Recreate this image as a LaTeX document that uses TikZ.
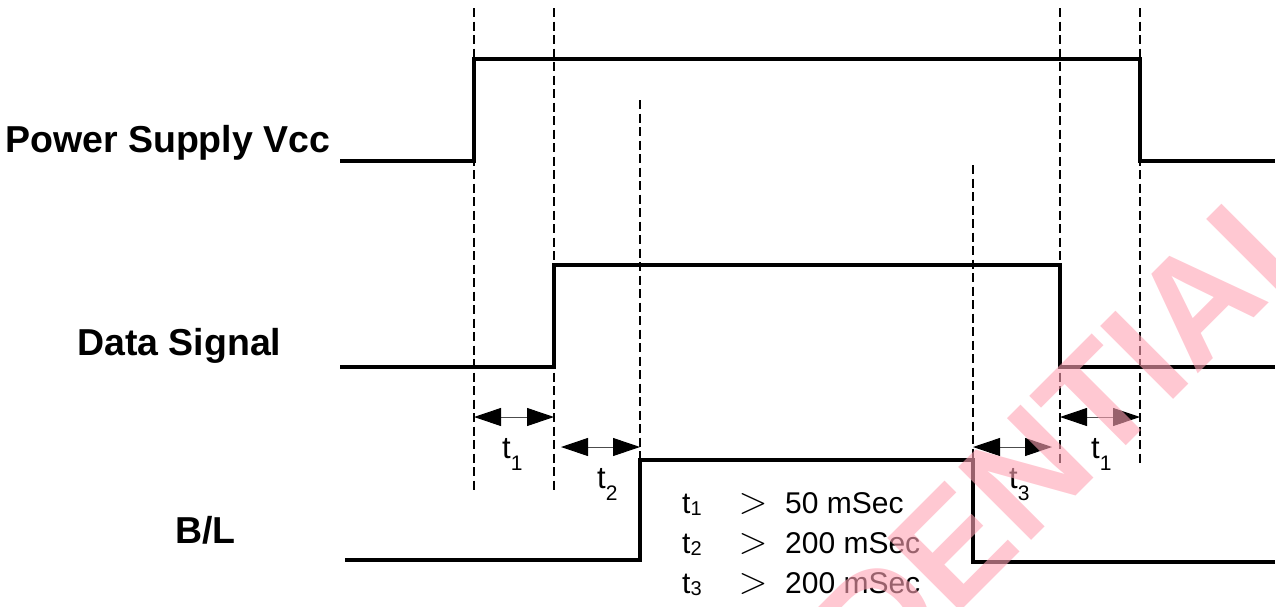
\RequirePackage{fix-cm}
\documentclass[tikz,border=0pt]{standalone}
\usepackage{fontspec}
\setmainfont{Liberation Sans}
\usetikzlibrary{arrows.meta}
\definecolor{wmpink}{RGB}{255,163,180}
\newcommand{\tlab}[1]{\fontsize{31}{31}\selectfont t\raisebox{-12pt}{\fontsize{21}{21}\selectfont #1}}
\newcommand{\tleg}[1]{\fontsize{30}{30}\selectfont t\raisebox{-2.5pt}{\fontsize{20}{20}\selectfont #1}}
\tikzset{
  signal/.style={line width=3.3pt, line join=miter},
  guide/.style={line width=2.8pt, dash pattern=on 9pt off 4.5pt},
  dimarrow/.style={line width=1pt, draw=black!70,
    {Triangle[length=27pt,width=18pt,color=black]}-{Triangle[length=27pt,width=18pt,color=black]}},
  siglabel/.style={anchor=base west, inner sep=0, font=\fontsize{37.5}{40}\bfseries\selectfont},
  tlabel/.style={anchor=base west, inner sep=0},
  legend/.style={anchor=base west, inner sep=0, font=\fontsize{30}{32}\selectfont},
  gt/.style={anchor=base, inner sep=0, font=\fontsize{38}{38}\selectfont},
  watermark/.style={rotate=45, anchor=base east, inner sep=0, text=wmpink, opacity=0.6,
    font=\fontsize{150}{150}\bfseries\selectfont}
}
\begin{document}
\begin{tikzpicture}[x=1pt,y=-1pt]
\useasboundingbox (0,0) rectangle (1276,606);
% labels
\node[siglabel] (lvcc) at (5,152) {Power Supply Vcc};
\node[siglabel] (ldata) at (77,355) {Data Signal};
\node[siglabel] (lbl) at (175,543) {B/L};
% waveforms
\draw[signal] (340,161) -- (474,161) -- (474,59) -- (1140,59) -- (1140,161) -- (1275,161);
\draw[signal] (340,367) -- (554,367) -- (554,265) -- (1060,265) -- (1060,367) -- (1275,367);
\draw[signal] (345,560) -- (640,560) -- (640,460) -- (973,460) -- (973,562) -- (1275,562);
% guide lines
\coordinate (g1t) at (474,8);   \coordinate (g1b) at (474,492);
\coordinate (g2t) at (554,8);   \coordinate (g2b) at (554,492);
\coordinate (g3t) at (640,100); \coordinate (g3b) at (640,460);
\coordinate (g4t) at (973,165); \coordinate (g4b) at (973,562);
\coordinate (g5t) at (1060,8);  \coordinate (g5b) at (1060,467);
\coordinate (g6t) at (1140,8);  \coordinate (g6b) at (1140,467);
\draw[guide] (g1t) -- (g1b);
\draw[guide] (g2t) -- (g2b);
\draw[guide] (g3t) -- (g3b);
\draw[guide] (g4t) -- (g4b);
\draw[guide] (g5t) -- (g5b);
\draw[guide] (g6t) -- (g6b);
% dimension arrows
\coordinate (a1l) at (474,417); \coordinate (a1r) at (554,417);
\coordinate (a2l) at (561,447); \coordinate (a2r) at (640,447);
\coordinate (a3l) at (973,447); \coordinate (a3r) at (1052,447);
\coordinate (a4l) at (1060,417); \coordinate (a4r) at (1140,417);
\draw[dimarrow] (a1l) -- (a1r);
\draw[dimarrow] (a2l) -- (a2r);
\draw[dimarrow] (a3l) -- (a3r);
\draw[dimarrow] (a4l) -- (a4r);
\node[tlabel] (t1a) at (502,458) {\tlab{1}};
\node[tlabel] (t2) at (597,488) {\tlab{2}};
\node[tlabel] (t3) at (1009,488) {\tlab{3}};
\node[tlabel] (t1b) at (1091,458) {\tlab{1}};
% legend
\node[tlabel] (k1) at (682,513) {\tleg{1}};
\node[tlabel] (k2) at (682,553) {\tleg{2}};
\node[tlabel] (k3) at (682,593) {\tleg{3}};
\node[gt] (g1) at (753,513) {$>$};
\node[gt] (g2) at (753,553) {$>$};
\node[gt] (g3) at (753,593) {$>$};
\node[legend] (v1) at (785,513) {50 mSec};
\node[legend] (v2) at (785,553) {200 mSec};
\node[legend] (v3) at (785,593) {200 mSec};
% watermark
\node[watermark] (wm) at (1337,235) {CONFIDENTIAL};
\end{tikzpicture}
\end{document}
